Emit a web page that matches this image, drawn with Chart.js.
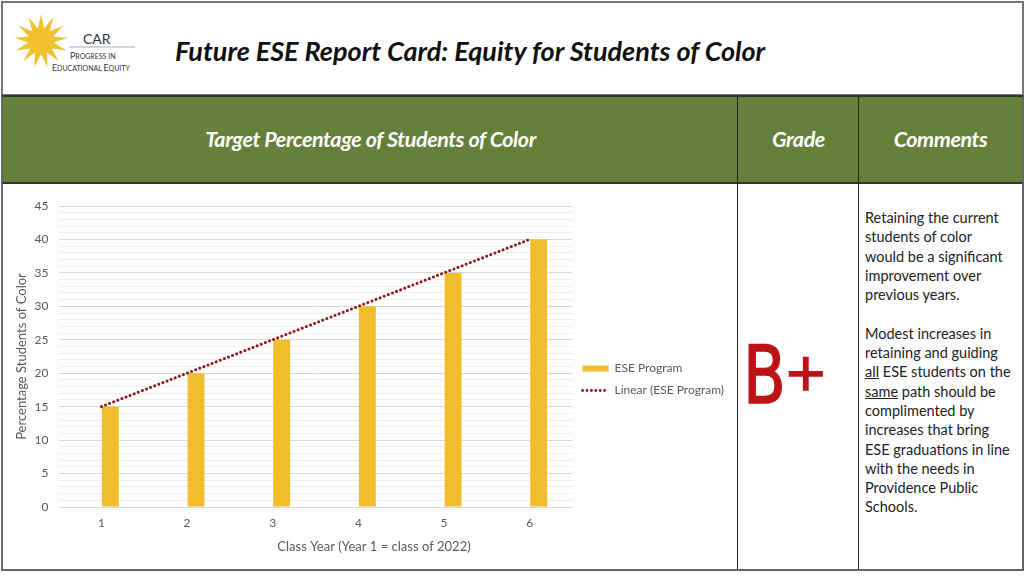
<!DOCTYPE html>
<html>
<head>
<meta charset="utf-8">
<script src="https://cdn.jsdelivr.net/npm/chart.js@4.4.1/dist/chart.umd.min.js"></script>
<style>
body{margin:0;width:1024px;height:576px;background:#fff;font-family:Lato,sans-serif;position:relative;overflow:hidden}
#top{position:absolute;left:1px;top:1px;width:1019px;height:91px;border:2px solid #777}
#logoTxt{position:absolute;left:0;top:0;width:140px;height:90px}
#title{position:absolute;left:172px;top:31px;font-size:27px;font-weight:bold;font-style:italic;color:#111;white-space:nowrap}
#tbl{position:absolute;left:1px;top:95px;width:1019px;height:472px;border:2px solid #666;border-top:2px solid #333}
#green{position:absolute;left:0;top:0;width:1019px;height:85px;background:#65803b;border-bottom:2px solid #333}
.hd{position:absolute;top:0;height:85px;line-height:85px;text-align:center;color:#fff;font-weight:bold;font-style:italic;font-size:21.5px;letter-spacing:-0.4px}
.vl{position:absolute;top:0;width:1px;height:472px;background:#222}
.gr{position:absolute;color:#bf1217;-webkit-text-stroke:1.6px #bf1217;font-family:'DejaVu Sans',sans-serif;line-height:1;white-space:nowrap}
#gB{left:743px;top:336px;font-size:80px;transform:scaleX(0.78);transform-origin:left top}
#gP{left:784px;top:346px;font-size:52px}
#comments{position:absolute;left:865px;top:208px;width:156px;font-size:14.5px;line-height:19.3px;color:#222}
#comments p{margin:0 0 19.3px 0}
#chartBox{position:absolute;left:2px;top:183px;width:734px;height:384px}
</style>
</head>
<body>
<div id="top">
	<svg id="logoTxt" width="140" height="90">
		<polygon id="star" fill="#f2c12e" points=""></polygon>
		<text x="80" y="41" font-family="Lato" font-size="14" fill="#333">CAR</text>
		<line x1="66" y1="44" x2="132" y2="44" stroke="#8a9bb0" stroke-width="0.8"></line>
		<text x="67" y="56" font-family="Lato" font-size="8.8" fill="#333">P<tspan font-size="7">ROGRESS IN</tspan></text>
		<text x="49" y="68" font-family="Lato" font-size="8.8" fill="#333">E<tspan font-size="7">DUCATIONAL </tspan>E<tspan font-size="7">QUITY</tspan></text>
	</svg>
	<div id="title">Future ESE Report Card: Equity for Students of Color</div>
</div>
<div id="tbl">
	<div id="green">
		<div class="hd" style="left:0;width:735px">Target Percentage of Students of Color</div>
		<div class="hd" style="left:735px;width:121px">Grade</div>
		<div class="hd" style="left:856px;width:163px">Comments</div>
	</div>
	<div class="vl" style="left:734px"></div>
	<div class="vl" style="left:855px"></div>
</div>
<div id="grade"><span class="gr" id="gB">B</span><span class="gr" id="gP">+</span></div>
<div id="comments">
	<p>Retaining the current<br>students of color<br>would be a significant<br>improvement over<br>previous years.</p>
	<p>Modest increases in<br>retaining and guiding<br><u>all</u> ESE students on the<br><u>same</u> path should be<br>complimented by<br>increases that bring<br>ESE graduations in line<br>with the needs in<br>Providence Public<br>Schools.</p>
</div>
<div id="chartBox"><canvas id="esechart"></canvas></div>
<script>
// chart data
let classYears = ['1','2','3','4','5','6']
let eseProgram = [15,20,25,30,35,40]
let linearTrend = [15,20,25,30,35,40]
let yLabels = [0,5,10,15,20,25,30,35,40,45]

let gold = '#f0bd2c'
let trendRed = '#8b1c1c'
let grey = '#595959'

// logo star
let drawStar=()=>{
	let pts = []
	let n = 13
	for(let i=0;i<n*2;i++){
		let r = i%2===0 ? 27 : 13
		let a = -Math.PI/2 + i*Math.PI/n
		pts.push((38+r*Math.cos(a)).toFixed(1)+','+(38+r*Math.sin(a)).toFixed(1))
	}
	document.getElementById('star').setAttribute('points',pts.join(' '))
}
drawStar()

let legendItems=chart=>{
	return chart.data.datasets.map((ds,i)=>{
		if(ds.type==='line'){
			return {text:ds.label,fillStyle:'rgba(0,0,0,0)',strokeStyle:ds.borderColor,lineWidth:2.8,
				lineDash:ds.borderDash,lineCap:'round',pointStyle:'line',datasetIndex:i,fontColor:grey}
		}
		return {text:ds.label,fillStyle:ds.backgroundColor,strokeStyle:ds.backgroundColor,lineWidth:0,
			pointStyle:'rect',datasetIndex:i,fontColor:grey}
	}).filter(x=>x.text!=='')
}

// legend sits a bit higher than centre in the original
let legendNudge = {
	id:'legendNudge',
	afterLayout:chart=>{
		chart.legend.top -= 7
		chart.legend.bottom -= 7
	}
}

new Chart(document.getElementById('esechart'),{
	type:'bar',
	data:{
		labels:classYears,
		datasets:[
			// empty slot, pushes the bars a little right of the tick like the original
			{label:'',type:'bar',data:classYears.map(()=>null),backgroundColor:'rgba(0,0,0,0)'},
			{label:'ESE Program',type:'bar',data:eseProgram,backgroundColor:gold,order:2},
			{label:'Linear (ESE Program)',type:'line',data:linearTrend,borderColor:trendRed,borderWidth:3,
				borderDash:[0.1,4.3],borderCapStyle:'round',pointRadius:0,fill:false,order:1}
		]
	},
	plugins:[legendNudge],
	options:{
		responsive:true,
		maintainAspectRatio:false,
		animation:false,
		layout:{padding:{left:12,top:23,right:2,bottom:0}},
		datasets:{bar:{categoryPercentage:0.42,barPercentage:0.94}},
		scales:{
			x:{
				grid:{display:false},
				border:{display:false},
				ticks:{color:grey,font:{family:'Lato',size:12},padding:1}
			},
			y:{
				min:0,max:45,
				border:{display:false},
				grid:{drawTicks:false,color:c=>c.tick.value%5===0 ? '#d9d9d9' : '#efefef'},
				ticks:{stepSize:1,autoSkip:false,color:grey,font:{family:'Lato',size:12},padding:10,
					callback:v=>yLabels.includes(v) ? v : ''},
				title:{display:true,text:'Percentage Students of Color',color:grey,font:{family:'Lato',size:13},padding:{top:0,bottom:-5}}
			}
		},
		plugins:{
			legend:{
				position:'right',
				labels:{usePointStyle:true,pointStyleWidth:26,boxHeight:6,padding:10,color:grey,
					font:{family:'Lato',size:12},generateLabels:legendItems}
			},
			title:{display:true,position:'bottom',text:'Class Year (Year 1 = class of 2022)',color:grey,
				font:{family:'Lato',size:13,weight:'normal'},padding:{top:8,bottom:12}},
			tooltip:{enabled:false}
		}
	}
})
</script>
</body>
</html>
